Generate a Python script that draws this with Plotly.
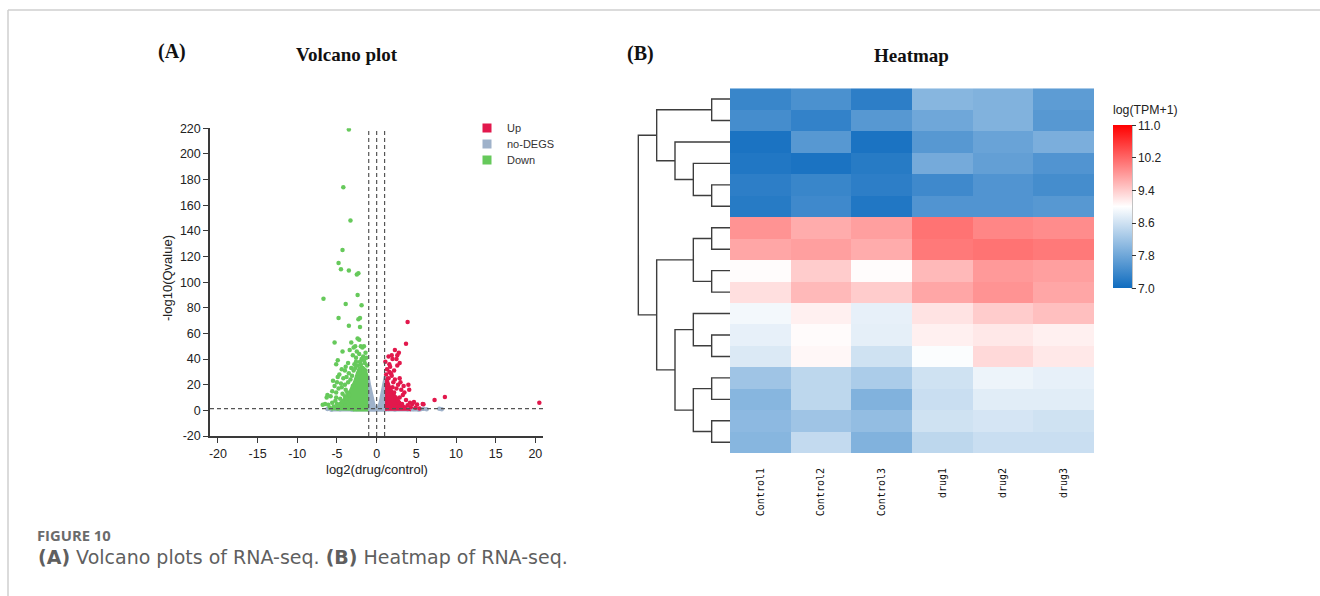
import plotly.graph_objects as go

W, H = 1320, 596


def px(x):
    return x / W


def py(y):
    return 1 - y / H


# ---------------- (A) Volcano plot data ----------------
down_pts = [
    (-3.5, 219), (-4.2, 174), (-3.3, 148), (-4.3, 125), (-4.8, 115), (-4.5, 110), (-3.5, 109),
    (-2.5, 106), (-2.3, 107), (-2.4, 90), (-6.7, 87), (-3.9, 83), (-1.9, 82), (-4.8, 72),
    (-2.3, 71), (-2.1, 72), (-3.5, 66), (-2.1, 65),
    (-5.3, 53), (-3.2, 53), (-2.4, 56), (-2.2, 55), (-2.7, 50), (-2.0, 50), (-1.6, 50), (-1.8, 49),
    (-2.9, 49), (-3.4, 47), (-4.3, 46), (-2.5, 46), (-1.4, 45), (-2.2, 44), (-3.0, 43), (-1.7, 42),
    (-2.6, 41), (-1.3, 41), (-1.9, 40),
    (-4.9, 39), (-5.1, 36), (-3.6, 37), (-2.1, 38), (-1.5, 37), (-2.8, 36), (-3.9, 34), (-2.4, 35),
    (-1.2, 35), (-3.2, 33), (-4.4, 32), (-1.8, 33), (-2.9, 31), (-4.0, 31), (-3.5, 29), (-4.7, 28),
    (-2.2, 29), (-1.4, 31), (-3.1, 27), (-5.5, 23), (-4.2, 25), (-3.8, 26), (-4.9, 26),
    (-5.0, 22), (-4.5, 21), (-4.0, 20), (-3.6, 22), (-5.3, 19), (-4.8, 17), (-4.4, 18), (-3.9, 16),
    (-5.6, 15), (-5.1, 14), (-4.3, 13), (-3.7, 14), (-6.2, 12), (-5.8, 11), (-5.1, 10), (-4.6, 9),
    (-4.0, 11), (-3.8, 9), (-6.3, 10),
    (-6.8, 4.3), (-6.1, 4.3), (-5.6, 6), (-5.4, 3), (-5.0, 5), (-4.7, 3.5), (-4.3, 6), (-4.1, 2.5),
    (-3.9, 4), (-6.5, 5), (-5.9, 2), (-5.2, 7.5), (-4.9, 1.5), (-4.5, 4), (-3.6, 5),
    (-3.3, 24), (-2.7, 33), (-2.0, 36), (-3.0, 19), (-3.4, 12), (-2.6, 38), (-1.6, 39),
]
up_pts = [
    (3.9, 69), (3.7, 52), (2.3, 47), (2.8, 45), (2.6, 43), (1.5, 42), (1.1, 38), (2.5, 40), (2.0, 40),
    (2.6, 35), (1.7, 34), (2.9, 37), (2.2, 31), (1.3, 32), (1.8, 29), (2.9, 25), (1.5, 25), (3.0, 22),
    (4.0, 20), (4.1, 16), (3.1, 16), (3.3, 12), (2.9, 10), (2.2, 14), (2.4, 10), (1.8, 15), (1.4, 20),
    (2.0, 18), (2.5, 17), (2.7, 20), (3.5, 14), (3.7, 8), (4.2, 6), (3.9, 4), (4.5, 5), (4.7, 6.6),
    (5.1, 4.5), (5.8, 5), (5.9, 4.8), (7.3, 8), (8.6, 10.5), (20.5, 6), (3.3, 3), (3.6, 2), (4.3, 2.5),
    (4.9, 2), (5.4, 1.5), (2.8, 6), (3.2, 5), (2.6, 8), (1.9, 27), (1.2, 28), (1.6, 30), (2.1, 22),
    (2.3, 24), (3.4, 19), (1.6, 36), (1.9, 43),
]
nodeg_pts = [
    (-6.2, 1.0), (-5.7, 0.5), (-5.2, 1.5), (-4.6, 0.8), (-3.8, 1.2), (-3.1, 0.6), (-2.5, 1.0),
    (-1.8, 1.4), (1.5, 1.0), (2.3, 0.7), (3.1, 1.2), (3.9, 0.8), (4.6, 1.1), (5.3, 0.6), (5.9, 1.3),
    (6.3, 0.9), (7.9, 1.2), (8.2, 0.9),
]
# outlines of the over-plotted (saturated) cores of each group
down_core = [(-5.7, 0.0), (-4.9, 4.5), (-4.0, 10), (-3.4, 15.6), (-2.9, 22), (-2.56, 28.6),
             (-2.3, 33), (-1.9, 35), (-1.5, 33), (-1.15, 28), (-1.15, -0.3), (-3.0, -0.3)]
up_core = [(1.15, -0.3), (1.15, 24), (1.3, 26), (1.5, 22), (1.8, 17), (2.5, 10.4), (3.2, 5),
           (3.8, 1.5), (4.3, -0.3)]
nodeg_core = [(-1.15, 25), (-1.0, 27), (-0.8, 20), (-0.6, 14), (-0.4, 8), (-0.2, 3.5), (0.0, 1.2),
              (0.2, 3.5), (0.4, 8), (0.6, 14), (0.8, 20), (1.0, 27), (1.15, 25), (1.15, -0.3),
              (-1.15, -0.3)]
nodeg_base = [(-6.2, 0.8), (-5.5, -0.3), (5.5, -0.3), (6.3, 0.8), (5.5, 1.9), (-5.5, 1.9)]

fc_cutoffs = [-1, 0, 1]
q_cutoff = 1.3
volcano_xticks = [-20, -15, -10, -5, 0, 5, 10, 15, 20]
volcano_yticks = [-20, 0, 20, 40, 60, 80, 100, 120, 140, 160, 180, 200, 220]
groups = ["Up", "no-DEGS", "Down"]

# ---------------- (B) Heatmap data ----------------
samples = ["Control1", "Control2", "Control3", "drug1", "drug2", "drug3"]
tpm = [
    [7.35, 7.50, 7.25, 8.00, 7.95, 7.65],
    [7.45, 7.30, 7.60, 7.80, 7.95, 7.60],
    [7.10, 7.60, 7.10, 7.60, 7.75, 7.90],
    [7.15, 7.10, 7.20, 7.85, 7.70, 7.55],
    [7.25, 7.35, 7.25, 7.40, 7.55, 7.45],
    [7.20, 7.40, 7.15, 7.55, 7.55, 7.60],
    [9.85, 9.65, 9.75, 10.10, 9.95, 9.90],
    [9.70, 9.75, 9.65, 10.05, 10.10, 10.05],
    [9.02, 9.40, 9.02, 9.55, 9.80, 9.75],
    [9.25, 9.55, 9.40, 9.70, 9.85, 9.70],
    [8.90, 9.12, 8.80, 9.22, 9.40, 9.50],
    [8.80, 9.03, 8.78, 9.12, 9.18, 9.12],
    [8.70, 9.06, 8.60, 8.97, 9.30, 9.18],
    [8.20, 8.45, 8.30, 8.60, 8.85, 8.80],
    [8.00, 8.45, 7.95, 8.55, 8.75, 8.75],
    [8.05, 8.20, 8.10, 8.60, 8.65, 8.60],
    [8.00, 8.50, 7.95, 8.45, 8.55, 8.55],
]
# row dendrogram: (left node, right node, merge height); new nodes numbered from 17
linkage = [
    (0, 1, 1), (4, 5, 1), (3, 18, 2), (2, 19, 3), (17, 20, 4),
    (6, 7, 1), (8, 9, 1), (22, 23, 2),
    (11, 12, 1), (10, 25, 2), (13, 14, 1), (15, 16, 1), (27, 28, 2), (26, 29, 3),
    (24, 30, 4), (21, 31, 5),
]
cbar_ticks = [7.0, 7.8, 8.6, 9.4, 10.2, 11.0]
z_min, z_max = 7.0, 11.0

C_UP, C_NO, C_DOWN = "#e2184c", "#9fb2ca", "#66c95b"
AXC = "#3a3a3a"
TXT = "#222222"

fig = go.Figure()

# --- volcano: grey (no-DEGs) first, then colored groups ---
for core in (nodeg_core, nodeg_base):
    fig.add_trace(go.Scatter(x=[p[0] for p in core], y=[p[1] for p in core], mode="lines",
                             fill="toself", fillcolor=C_NO, line=dict(color=C_NO, width=1.5),
                             showlegend=False, hoverinfo="skip", xaxis="x", yaxis="y"))
fig.add_trace(go.Scatter(x=[p[0] for p in nodeg_pts], y=[p[1] for p in nodeg_pts], mode="markers",
                         marker=dict(color=C_NO, size=4.5), showlegend=False, xaxis="x", yaxis="y"))
for core, pts, col in ((down_core, down_pts, C_DOWN), (up_core, up_pts, C_UP)):
    fig.add_trace(go.Scatter(x=[p[0] for p in core], y=[p[1] for p in core], mode="lines",
                             fill="toself", fillcolor=col, line=dict(color=col, width=1.5),
                             showlegend=False, hoverinfo="skip", xaxis="x", yaxis="y"))
    fig.add_trace(go.Scatter(x=[p[0] for p in pts], y=[p[1] for p in pts], mode="markers",
                             marker=dict(color=col, size=4.5), showlegend=False,
                             xaxis="x", yaxis="y"))
# legend entries: one small legend per group so the rows sit 16 px apart
legend_ids = ["legend", "legend2", "legend3"]
legend_rows_y = [128, 144, 160]
for name, col, lid in zip(groups, (C_UP, C_NO, C_DOWN), legend_ids):
    fig.add_trace(go.Scatter(x=[None], y=[None], mode="markers", name=name, legend=lid,
                             marker=dict(symbol="square", size=9, color=col),
                             xaxis="x", yaxis="y"))

for v in fc_cutoffs:
    fig.add_vline(x=v, line=dict(color="#555555", width=1.2, dash="4px,3px"))
fig.add_hline(y=q_cutoff, line=dict(color="#555555", width=1.2, dash="4px,3px"))

# --- heatmap ---
fig.add_trace(go.Heatmap(
    z=tpm, x=samples, y=list(range(len(tpm))), zmin=z_min, zmax=z_max,
    colorscale=[[0, "#0f6cbf"], [0.5, "#ffffff"], [1, "#ff0000"]],
    xaxis="x2", yaxis="y2",
    colorbar=dict(
        thickness=19, thicknessmode="pixels", len=163, lenmode="pixels",
        x=px(1112.7), xanchor="left", xpad=0, y=py(288.3), yanchor="bottom", ypad=0,
        outlinewidth=0, tickvals=cbar_ticks, ticktext=["%.1f" % t for t in cbar_ticks],
        ticks="outside", ticklen=4, tickcolor="#333", tickwidth=1.2,
        tickfont=dict(size=12, color=TXT, family="Liberation Sans"),
    ),
))

# --- dendrogram from linkage ---
n_leaves = len(tpm)
node_pos = {i: (float(i), 0.0) for i in range(n_leaves)}
dx, dy = [], []
for k, (a, b, h) in enumerate(linkage):
    ya, ha = node_pos[a]
    yb, hb = node_pos[b]
    dx += [ha, h, h, hb, None]
    dy += [ya, ya, yb, yb, None]
    node_pos[n_leaves + k] = ((ya + yb) / 2, h)
fig.add_trace(go.Scatter(x=dx, y=dy, mode="lines", line=dict(color="#3d3d3d", width=1.4),
                         showlegend=False, hoverinfo="skip", xaxis="x3", yaxis="y3"))

axis_common = dict(showline=True, linecolor=AXC, linewidth=1.5, ticks="outside", ticklen=5,
                   tickwidth=1.2, tickcolor=AXC, showgrid=False, zeroline=False, automargin=False,
                   tickfont=dict(size=12.5, color=TXT, family="Liberation Sans"))
hm_top, hm_bot = py(88.3), py(453)
legend_style = dict(xanchor="left", yanchor="top", bgcolor="rgba(0,0,0,0)",
                    font=dict(size=11, color="#333", family="Liberation Sans"), itemwidth=30)
legends = {lid: dict(x=px(467), y=py(ry - 14.5), **legend_style)
           for lid, ry in zip(legend_ids, legend_rows_y)}
fig.update_layout(
    width=W, height=H, margin=dict(l=0, r=0, t=0, b=0, pad=0, autoexpand=False),
    paper_bgcolor="white", plot_bgcolor="white",
    xaxis=dict(domain=[px(210), px(543.3)], range=[-21, 21], tickvals=volcano_xticks,
               ticktext=[str(v) for v in volcano_xticks], anchor="y", **axis_common),
    yaxis=dict(domain=[py(436), py(128.3)], range=[-20, 220], tickvals=volcano_yticks,
               ticktext=[str(v) for v in volcano_yticks], anchor="x", **axis_common),
    xaxis2=dict(domain=[px(730), px(1094)], anchor="y2", tickangle=-90, ticks="",
                showline=False, showgrid=False, zeroline=False, ticklabelstandoff=12,
                automargin=False,
                tickfont=dict(size=10, color="#111", family="DejaVu Sans Mono")),
    yaxis2=dict(domain=[hm_bot, hm_top], range=[n_leaves - 0.5, -0.5], visible=False,
                anchor="x2", automargin=False),
    xaxis3=dict(domain=[px(630), px(730)], range=[5.4545, 0], visible=False, anchor="y3",
                automargin=False),
    yaxis3=dict(domain=[hm_bot, hm_top], range=[n_leaves - 0.5, -0.5], visible=False,
                anchor="x3", automargin=False),
    showlegend=True,
    **legends,
)

# colorbar axis line
fig.add_shape(type="line", xref="paper", yref="paper", x0=px(1131.7), x1=px(1131.7),
              y0=py(288.3), y1=py(125.3), line=dict(color="#333", width=1.2))
# figure frame
fig.add_shape(type="line", xref="paper", yref="paper", x0=px(8), x1=1, y0=py(10), y1=py(10),
              line=dict(color="#cfcfcf", width=1.5))
fig.add_shape(type="line", xref="paper", yref="paper", x0=px(8), x1=px(8), y0=0, y1=py(10),
              line=dict(color="#cfcfcf", width=1.5))

serif = "Liberation Serif"
ann = [
    dict(text="<b>(A)</b>", x=px(172), y=py(52), size=20, fam=serif, col="#111"),
    dict(text="<b>Volcano plot</b>", x=px(347), y=py(54), size=19, fam=serif, col="#111"),
    dict(text="<b>(B)</b>", x=px(640), y=py(53), size=20, fam=serif, col="#111"),
    dict(text="<b>Heatmap</b>", x=px(911), y=py(55), size=19, fam=serif, col="#111"),
    dict(text="log2(drug/control)", x=px(377), y=py(469), size=13, fam="Liberation Sans", col=TXT),
]
for a in ann:
    fig.add_annotation(text=a["text"], x=a["x"], y=a["y"], xref="paper", yref="paper",
                       showarrow=False, xanchor="center", yanchor="middle",
                       font=dict(size=a["size"], family=a["fam"], color=a["col"]))
fig.add_annotation(text="-log10(Qvalue)", x=px(168), y=py(278), xref="paper", yref="paper",
                   showarrow=False, textangle=-90, xanchor="center", yanchor="middle",
                   font=dict(size=13, family="Liberation Sans", color=TXT))
fig.add_annotation(text="log(TPM+1)", x=px(1111), y=py(109.5), xref="paper", yref="paper",
                   showarrow=False, xanchor="left", yanchor="middle",
                   font=dict(size=12.3, family="Liberation Sans", color=TXT))
fig.add_annotation(text="<b>FIGURE 10</b>", x=px(35), y=py(535), xref="paper", yref="paper",
                   showarrow=False, xanchor="left", yanchor="middle",
                   font=dict(size=14.8, family="Open Sans", color="#6b6b6b"))
fig.add_annotation(text="<b>(A)</b> Volcano plots of RNA-seq. <b>(B)</b> Heatmap of RNA-seq.",
                   x=px(36), y=py(557), xref="paper", yref="paper", showarrow=False,
                   xanchor="left", yanchor="middle",
                   font=dict(size=19, family="DejaVu Sans", color="#5f5f5f"))

fig.write_html("out.html")
